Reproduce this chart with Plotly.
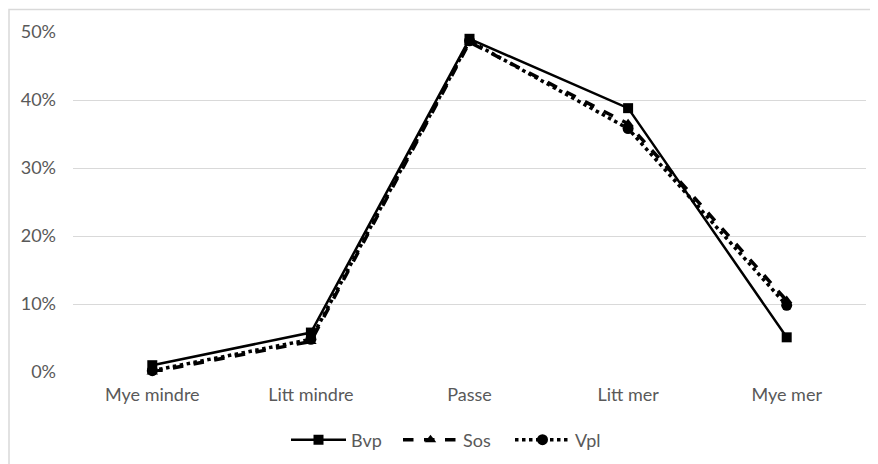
import plotly.graph_objects as go

categories = ["Mye mindre", "Litt mindre", "Passe", "Litt mer", "Mye mer"]
bvp = [0.010, 0.058, 0.490, 0.388, 0.051]
sos = [0.000, 0.045, 0.485, 0.365, 0.105]
vpl = [0.002, 0.048, 0.487, 0.358, 0.098]
y_ticks = [0, 0.1, 0.2, 0.3, 0.4, 0.5]
y_tick_labels = ["0%", "10%", "20%", "30%", "40%", "50%"]

# page body adds an 8px offset, so the figure is drawn 8px smaller
W, H = 870, 456
L, R, T, B = 65, 12, 24, 92
pw, ph = W - L - R, H - T - B
FONT = "Lato, Open Sans, sans-serif"
FS = 18

fig = go.Figure()
fig.add_trace(go.Scatter(x=categories, y=bvp, name="Bvp", mode="lines+markers",
                         line=dict(color="black", width=2.5, dash="solid"),
                         marker=dict(symbol="square", size=10, color="black"),
                         cliponaxis=False))
fig.add_trace(go.Scatter(x=categories, y=sos, name="Sos", mode="lines+markers",
                         line=dict(color="black", width=3.5, dash="dash"),
                         marker=dict(symbol="triangle-up", size=10, color="black"),
                         cliponaxis=False))
fig.add_trace(go.Scatter(x=categories, y=vpl, name="Vpl", mode="lines+markers",
                         line=dict(color="black", width=3.5, dash="dot"),
                         marker=dict(symbol="circle", size=11, color="black"),
                         cliponaxis=False))

fig.add_shape(type="rect", xref="paper", yref="paper",
              x0=(1 - L) / pw, x1=(W + 10 - L) / pw,
              y0=(T + ph - (H + 10)) / ph, y1=(T + ph - 1.5) / ph,
              line=dict(color="#d9d9d9", width=1.5), fillcolor="rgba(0,0,0,0)",
              layer="below")

fig.update_layout(
    width=W, height=H,
    margin=dict(l=L, r=R, t=T, b=B, autoexpand=False),
    paper_bgcolor="white", plot_bgcolor="white",
    font=dict(family=FONT, size=FS, color="#595959"),
    showlegend=True,
    legend=dict(orientation="h", x=(446 - L) / pw, xanchor="center", y=(T + ph - 432) / ph,
                yanchor="middle", itemwidth=55, entrywidth=42, entrywidthmode="pixels",
                font=dict(size=FS, color="#595959"), traceorder="normal"),
    xaxis=dict(type="category", range=[-0.5, 4.5], showgrid=False, showline=False,
               ticks="", ticklabelstandoff=10,
               tickfont=dict(size=FS, color="#595959"), zeroline=False),
    yaxis=dict(range=[0, 0.5], tickvals=y_ticks, ticktext=y_tick_labels,
               showgrid=True, gridcolor="#d9d9d9", gridwidth=1, zeroline=False,
               showline=False, ticks="", ticklabelstandoff=16,
               tickfont=dict(size=FS, color="#595959")),
)
fig.write_html("out.html")
